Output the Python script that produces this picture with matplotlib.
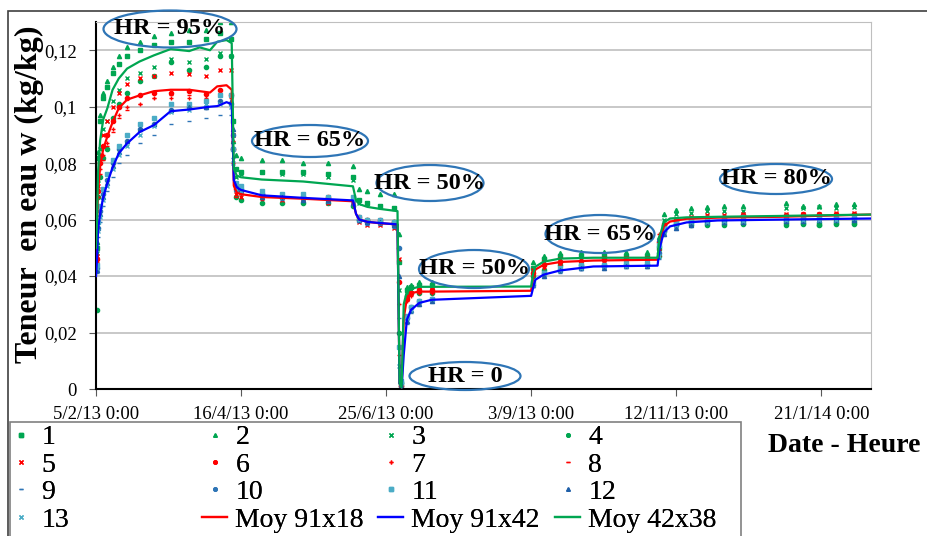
import numpy as np
import pandas as pd
import matplotlib
matplotlib.use('Agg')
import matplotlib.pyplot as plt
import matplotlib.dates as mdates
from matplotlib.patches import Ellipse, Rectangle
from matplotlib.lines import Line2D

plt.rcParams['font.family'] = ['Liberation Serif', 'DejaVu Serif']

# jours depuis le 5/2/13 0:00
t_mes = [0.3, 1, 2, 3.5, 5.5, 8, 11, 15, 21, 28, 36, 45, 53, 60, 65, 66.3,
         67.5, 70, 80, 90, 100, 112, 124,
         127, 131, 137, 144, 146, 147,
         150, 152, 156, 162,
         211, 216, 224, 234, 245, 256, 266, 271.5,
         274, 280, 287, 295, 303, 312, 333, 341, 349, 357, 366]

s1 = [0.050, 0.082, 0.095, 0.103, 0.107, 0.112, 0.115, 0.118, 0.120, 0.122, 0.123, 0.123, 0.124, 0.126, 0.124, 0.095,
      0.078, 0.077, 0.077, 0.077, 0.077, 0.076, 0.075,
      0.067, 0.066, 0.065, 0.064, 0.045, 0.002,
      0.035, 0.036, 0.037, 0.037,
      0.043, 0.046, 0.047, 0.047, 0.047, 0.047, 0.047, 0.050,
      0.058, 0.059, 0.059, 0.059, 0.059, 0.059, 0.059, 0.059, 0.0585, 0.059, 0.059]
s2 = [0.052, 0.084, 0.097, 0.105, 0.109, 0.114, 0.118, 0.121, 0.123, 0.125, 0.126, 0.127, 0.127, 0.130, 0.130, 0.088,
      0.083, 0.082, 0.081, 0.081, 0.080, 0.080, 0.079,
      0.071, 0.070, 0.069, 0.069, 0.055, 0.003,
      0.036, 0.037, 0.038, 0.038,
      0.045, 0.047, 0.048, 0.0485, 0.0485, 0.0485, 0.0485, 0.054,
      0.062, 0.0635, 0.064, 0.0645, 0.065, 0.065, 0.066, 0.065, 0.065, 0.0655, 0.0655]
s3 = [0.048, 0.074, 0.085, 0.092, 0.095, 0.102, 0.106, 0.110, 0.112, 0.114, 0.117, 0.116, 0.117, 0.119, 0.118, 0.090,
      0.075, 0.076, 0.077, 0.076, 0.076, 0.075, 0.074,
      0.066, 0.066, 0.065, 0.064, 0.035, 0.002,
      0.034, 0.035, 0.036, 0.036,
      0.042, 0.045, 0.046, 0.046, 0.046, 0.046, 0.046, 0.048,
      0.060, 0.062, 0.0625, 0.063, 0.063, 0.063, 0.064, 0.064, 0.0645, 0.064, 0.0645]
s4 = [0.028, 0.068, 0.075, 0.082, 0.085, 0.096, 0.101, 0.105, 0.109, 0.111, 0.116, 0.113, 0.114, 0.118, 0.118, 0.085,
      0.068, 0.067, 0.066, 0.066, 0.066, 0.066, 0.065,
      0.060, 0.060, 0.059, 0.059, 0.020, 0.001,
      0.033, 0.034, 0.034, 0.034,
      0.040, 0.042, 0.044, 0.044, 0.044, 0.044, 0.044, 0.047,
      0.056, 0.058, 0.058, 0.058, 0.058, 0.0585, 0.058, 0.0585, 0.058, 0.0585, 0.0585]
s5 = [0.047, 0.072, 0.083, 0.090, 0.095, 0.100, 0.105, 0.108, 0.110, 0.111, 0.112, 0.1115, 0.111, 0.113, 0.113, 0.090,
      0.069, 0.068, 0.068, 0.067, 0.067, 0.066, 0.066,
      0.059, 0.058, 0.058, 0.057, 0.046, 0.002,
      0.033, 0.034, 0.035, 0.035,
      0.042, 0.045, 0.046, 0.046, 0.0465, 0.0465, 0.0465, 0.049,
      0.058, 0.060, 0.061, 0.0615, 0.0615, 0.062, 0.062, 0.062, 0.062, 0.0625, 0.0625]
s6 = [0.046, 0.070, 0.080, 0.086, 0.090, 0.095, 0.100, 0.103, 0.104, 0.105, 0.105, 0.1055, 0.1045, 0.106, 0.104, 0.085,
      0.071, 0.070, 0.069, 0.068, 0.068, 0.068, 0.067,
      0.061, 0.060, 0.060, 0.059, 0.038, 0.001,
      0.032, 0.034, 0.035, 0.035,
      0.041, 0.044, 0.045, 0.0455, 0.046, 0.046, 0.046, 0.052,
      0.058, 0.060, 0.0605, 0.061, 0.061, 0.0615, 0.0615, 0.062, 0.062, 0.062, 0.062]
s7 = [0.045, 0.068, 0.078, 0.083, 0.087, 0.092, 0.097, 0.100, 0.101, 0.103, 0.103, 0.103, 0.103, 0.105, 0.103, 0.080,
      0.070, 0.069, 0.068, 0.068, 0.067, 0.067, 0.067,
      0.060, 0.059, 0.059, 0.059, 0.030, 0.002,
      0.031, 0.033, 0.034, 0.034,
      0.040, 0.043, 0.044, 0.045, 0.045, 0.045, 0.0455, 0.055,
      0.057, 0.059, 0.060, 0.0605, 0.061, 0.061, 0.061, 0.0615, 0.0615, 0.0615, 0.062]
s8 = [0.044, 0.068, 0.076, 0.081, 0.086, 0.091, 0.096, 0.099, 0.101, 0.103, 0.104, 0.104, 0.104, 0.106, 0.104, 0.088,
      0.068, 0.069, 0.067, 0.068, 0.067, 0.067, 0.066,
      0.060, 0.060, 0.058, 0.058, 0.012, 0.001,
      0.032, 0.034, 0.034, 0.034,
      0.041, 0.044, 0.045, 0.045, 0.0455, 0.0455, 0.046, 0.047,
      0.057, 0.059, 0.060, 0.060, 0.0605, 0.0605, 0.061, 0.061, 0.061, 0.0615, 0.0615]
s9 = [0.041, 0.054, 0.059, 0.065, 0.070, 0.075, 0.080, 0.083, 0.087, 0.090, 0.094, 0.095, 0.096, 0.097, 0.097, 0.082,
      0.070, 0.069, 0.068, 0.067, 0.067, 0.066, 0.066,
      0.059, 0.058, 0.058, 0.057, 0.025, 0.001,
      0.023, 0.027, 0.030, 0.031,
      0.036, 0.040, 0.041, 0.042, 0.043, 0.043, 0.043, 0.046,
      0.055, 0.057, 0.058, 0.0585, 0.059, 0.059, 0.0595, 0.0595, 0.0595, 0.060, 0.060]
s10 = [0.043, 0.057, 0.063, 0.069, 0.074, 0.080, 0.085, 0.088, 0.092, 0.094, 0.099, 0.100, 0.100, 0.102, 0.101, 0.090,
       0.072, 0.071, 0.069, 0.068, 0.068, 0.067, 0.067,
       0.060, 0.059, 0.059, 0.058, 0.050, 0.002,
       0.025, 0.029, 0.031, 0.032,
       0.037, 0.041, 0.042, 0.043, 0.0435, 0.044, 0.044, 0.048,
       0.056, 0.058, 0.059, 0.0595, 0.060, 0.060, 0.060, 0.0605, 0.0605, 0.0605, 0.0605]
s11 = [0.044, 0.059, 0.065, 0.071, 0.076, 0.081, 0.086, 0.090, 0.094, 0.096, 0.101, 0.101, 0.102, 0.104, 0.104, 0.085,
       0.073, 0.072, 0.070, 0.069, 0.069, 0.068, 0.068,
       0.061, 0.060, 0.060, 0.059, 0.015, 0.003,
       0.026, 0.029, 0.031, 0.032,
       0.038, 0.041, 0.043, 0.044, 0.044, 0.0445, 0.0445, 0.051,
       0.057, 0.059, 0.060, 0.0605, 0.0605, 0.061, 0.061, 0.061, 0.061, 0.061, 0.061]
s12 = [0.042, 0.057, 0.062, 0.068, 0.073, 0.079, 0.084, 0.088, 0.092, 0.094, 0.099, 0.100, 0.100, 0.102, 0.102, 0.092,
       0.071, 0.070, 0.068, 0.068, 0.067, 0.067, 0.066,
       0.060, 0.059, 0.059, 0.058, 0.040, 0.001,
       0.024, 0.028, 0.030, 0.031,
       0.037, 0.040, 0.042, 0.043, 0.043, 0.0435, 0.0435, 0.053,
       0.055, 0.057, 0.058, 0.059, 0.059, 0.059, 0.0595, 0.0595, 0.060, 0.060, 0.060]
s13 = [0.043, 0.056, 0.061, 0.067, 0.072, 0.078, 0.083, 0.086, 0.090, 0.093, 0.098, 0.099, 0.101, 0.101, 0.100, 0.080,
       0.071, 0.070, 0.069, 0.068, 0.068, 0.068, 0.067,
       0.060, 0.060, 0.059, 0.059, 0.008, 0.002,
       0.025, 0.028, 0.031, 0.032,
       0.037, 0.041, 0.042, 0.043, 0.0435, 0.0435, 0.044, 0.047,
       0.056, 0.058, 0.059, 0.059, 0.0595, 0.0595, 0.060, 0.060, 0.060, 0.060, 0.0605]

t_moy = [0, 0.5, 1, 2, 3.5, 5.5, 8, 11, 15, 21, 28, 36, 45, 50, 55, 58.5, 63, 65.5, 66.5, 68,
         70, 80, 100, 124, 125.5, 127, 131, 137, 145.5, 146.5, 147.5, 148.5, 150, 152, 156, 162,
         210, 211, 212, 216, 224, 240, 271, 272, 274, 277, 285, 300, 330, 374]
moy_91x18 = [0.045, 0.060, 0.0696, 0.079, 0.085, 0.0895, 0.0945, 0.0995, 0.1025, 0.104,
             0.1055, 0.106, 0.106, 0.1055, 0.105, 0.1072, 0.1076, 0.106, 0.072, 0.0695,
             0.069, 0.068, 0.0674, 0.0665, 0.062, 0.060, 0.0592, 0.0587, 0.0583, 0.002,
             0.0005, 0.025, 0.032, 0.034, 0.0345, 0.0345, 0.0348, 0.040, 0.0423, 0.044,
             0.045, 0.0455, 0.0458, 0.052, 0.0576, 0.0593, 0.0603, 0.0607, 0.061, 0.0618]
moy_91x42 = [0.040, 0.046, 0.0565, 0.062, 0.068, 0.073, 0.0785, 0.0835, 0.087, 0.091,
             0.0935, 0.0984, 0.099, 0.0995, 0.100, 0.1002, 0.1016, 0.1009, 0.074, 0.0714,
             0.0705, 0.0686, 0.0677, 0.0668, 0.062, 0.060, 0.0592, 0.0588, 0.0583, 0.002,
             0.0005, 0.012, 0.0245, 0.028, 0.0305, 0.0316, 0.033, 0.036, 0.0387, 0.0405,
             0.042, 0.0434, 0.0437, 0.050, 0.0554, 0.0576, 0.059, 0.0597, 0.060, 0.0604]
moy_42x38 = [0.050, 0.060, 0.077, 0.088, 0.0955, 0.0995, 0.106, 0.110, 0.1135, 0.116,
             0.1182, 0.1204, 0.1197, 0.121, 0.120, 0.123, 0.1236, 0.1225, 0.078, 0.0755,
             0.075, 0.0742, 0.0735, 0.0718, 0.0668, 0.0655, 0.0645, 0.0638, 0.063, 0.002,
             0.0005, 0.030, 0.0345, 0.0355, 0.0362, 0.0362, 0.0363, 0.041, 0.0433, 0.0451,
             0.0462, 0.0465, 0.0465, 0.054, 0.059, 0.0604, 0.0608, 0.061, 0.0613, 0.0618]

paliers = ['HR = 95%', 'HR = 65%', 'HR = 50%', 'HR = 0', 'HR = 50%', 'HR = 65%', 'HR = 80%']

debut = pd.Timestamp('2013-02-05')
dates = (debut + pd.to_timedelta(t_mes, unit='D')).to_numpy()
dates_moy = (debut + pd.to_timedelta(t_moy, unit='D')).to_numpy()

vert = '#00a651'
rouge = '#ff0000'
bleu = '#2e75b6'
bleu_clair = '#4bacc6'
capteurs = [(s1, '1', 's', vert), (s2, '2', '^', vert), (s3, '3', 'x', vert), (s4, '4', 'o', vert),
            (s5, '5', 'x', rouge), (s6, '6', 'o', rouge), (s7, '7', '+', rouge), (s8, '8', '_', rouge),
            (s9, '9', '_', bleu), (s10, '10', 'o', bleu), (s11, '11', 's', bleu_clair),
            (s12, '12', '^', '#1f5fa8'), (s13, '13', 'x', bleu_clair)]
moyennes = [(moy_91x18, 'Moy 91x18', '#ff0000'), (moy_91x42, 'Moy 91x42', '#0000ff'),
            (moy_42x38, 'Moy 42x38', '#00a651')]

fig = plt.figure(figsize=(9.27, 5.36), dpi=100)
ax = fig.add_axes([96 / 927, 1 - 389 / 536, 775 / 927, 367 / 536])

handles = []
for vals, nom, mk, c in capteurs:
    ax.plot(dates, vals, ls='none', marker=mk, ms=3, mew=1, color=c, zorder=2)
    handles.append(Line2D([], [], ls='none', marker=mk, ms=2.5, mew=1, color=c, label=nom))
for vals, nom, c in moyennes:
    ax.plot(dates_moy, vals, color=c, lw=1.6, zorder=3)
    handles.append(Line2D([], [], color=c, lw=1.6, label=nom))

ax.set_ylim(0, 0.13)
ax.set_xlim(debut.to_datetime64(), (debut + pd.Timedelta(days=374)).to_datetime64())
ax.set_yticks(np.arange(0, 0.121, 0.02))
ax.yaxis.set_major_formatter(lambda v, p: ('%g' % round(v, 3)).replace('.', ','))
ax.set_xticks([(debut + pd.Timedelta(days=70 * k)).to_datetime64() for k in range(6)])
ax.xaxis.set_major_formatter(
    lambda v, p: '%d/%d/%d 0:00' % (mdates.num2date(v).day, mdates.num2date(v).month,
                                    mdates.num2date(v).year % 100))
ax.tick_params(axis='both', labelsize=13.5, direction='out', length=5, color='#595959')
ax.tick_params(axis='y', pad=9)
ax.tick_params(axis='x', pad=7)
ax.grid(axis='y', color='#bfbfbf', lw=1.2)
ax.set_axisbelow(True)
for cote in ['top', 'right']:
    ax.spines[cote].set_color('#bfbfbf')
for cote in ['left', 'bottom']:
    ax.spines[cote].set_color('black')
    ax.spines[cote].set_linewidth(1.5)

ax.set_ylabel('Teneur  en eau w (kg/kg)', fontsize=23, fontweight='bold')
ax.yaxis.set_label_coords(-0.067, 0.53)
fig.text(768 / 927, 1 - 445 / 536, 'Date - Heure', fontsize=20, fontweight='bold', va='center')

# bulles HR (centre x, centre y, largeur, hauteur en pixels)
bulles = [(170, 29, 133, 37), (310, 141, 116, 32), (430, 183, 107, 36), (465, 376, 111, 28),
          (474, 269, 110, 38), (600, 234, 109, 38), (776, 179, 112, 30)]
for txt, (cx, cy, w, h) in zip(paliers, bulles):
    fig.add_artist(Ellipse((cx / 927, 1 - cy / 536), w / 927, h / 536, transform=fig.transFigure,
                           fill=False, edgecolor='#2e75b6', lw=1.6, zorder=5))
    fig.text(cx / 927, 1 - cy / 536, txt, ha='center', va='center', fontsize=17.5,
             fontweight='bold', zorder=6)

# cadres
fig.add_artist(Rectangle((8 / 927, -0.05), 1.0, 1.05 - 11 / 536, transform=fig.transFigure,
                         fill=False, edgecolor='#404040', lw=1.2))
fig.add_artist(Rectangle((10 / 927, -0.05), 731 / 927, 0.05 + 1 - 422 / 536,
                         transform=fig.transFigure, fill=False, edgecolor='#808080', lw=1.2))

# legende en 4 colonnes, remplie ligne par ligne comme Excel
col_x = [8, 202, 378, 555]
for c in range(4):
    leg = fig.legend(handles=handles[c::4], loc='upper left',
                     bbox_to_anchor=(col_x[c] / 927, 1 - 425 / 536), frameon=False,
                     fontsize=20, handlelength=0.9, handletextpad=0.3, labelspacing=0.07,
                     borderpad=0, borderaxespad=0)
    fig.add_artist(leg)

fig.savefig('out.png', dpi=100)
